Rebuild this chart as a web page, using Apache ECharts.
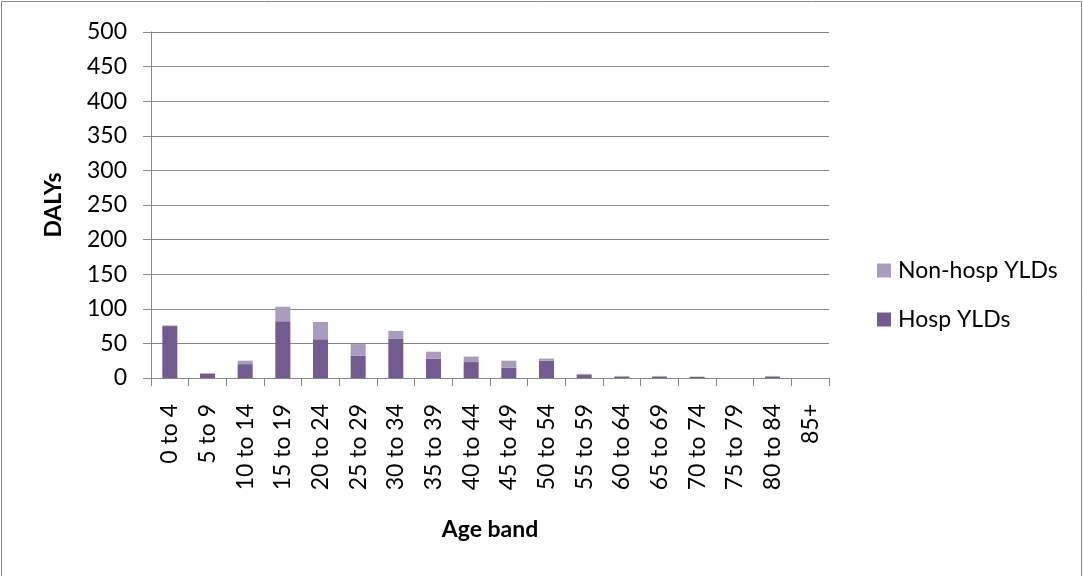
<!DOCTYPE html>
<html>
<head>
<meta charset="utf-8">
<script src="https://cdn.jsdelivr.net/npm/echarts@6/dist/echarts.min.js"></script>
<style>
  html, body { margin: 0; padding: 0; background: #fff; overflow: hidden; }
  #chart { width: 1083px; height: 576px; }
</style>
</head>
<body>
<div id="chart"></div>
<script>
// Age bands on the x axis
const ageBands = ['0 to 4', '5 to 9', '10 to 14', '15 to 19', '20 to 24', '25 to 29',
  '30 to 34', '35 to 39', '40 to 44', '45 to 49', '50 to 54', '55 to 59',
  '60 to 64', '65 to 69', '70 to 74', '75 to 79', '80 to 84', '85+'];

// DALYs from hospitalised cases
const hospYLDs = [75, 6, 20, 82, 56, 32, 57, 28, 23, 15, 25, 5, 2, 2, 1.5, 0, 2, 0];

// DALYs from non-hospitalised cases (stacked on top)
const nonHospYLDs = [1, 1, 5, 21, 25, 17, 11, 10, 8, 10, 3, 1, 1, 1, 0.5, 0, 1, 0];

const FONT = 'Lato, "Liberation Sans", Arial, sans-serif';
const FONT_SIZE = 23;
const LINE_COLOR = '#878787';

const chart = echarts.init(document.getElementById('chart'), null, { renderer: 'canvas' });

chart.setOption({
  animation: false,
  backgroundColor: '#ffffff',
  textStyle: { fontFamily: FONT, color: '#000' },
  graphic: [{
    // outer chart frame
    type: 'polyline',
    shape: { points: [[1.5, 600], [1.5, 1.5], [1081.5, 1.5], [1081.5, 600]] },
    style: { fill: null, stroke: LINE_COLOR, lineWidth: 1 },
    silent: true
  }],
  grid: { left: 151, right: 254, top: 32, bottom: 198, containLabel: false },
  legend: {
    orient: 'vertical',
    left: 872,
    top: 253,
    itemWidth: 14,
    itemHeight: 14,
    itemGap: 24,
    icon: 'rect',
    data: ['Non-hosp YLDs', 'Hosp YLDs'],
    textStyle: { fontFamily: FONT, fontSize: FONT_SIZE, lineHeight: 25, color: '#000', padding: [0, 0, 0, 2] }
  },
  xAxis: {
    type: 'category',
    data: ageBands,
    name: 'Age band',
    nameLocation: 'middle',
    nameGap: 140,
    nameTextStyle: { fontFamily: FONT, fontSize: FONT_SIZE, fontWeight: 'bold', color: '#000' },
    axisLine: { lineStyle: { color: LINE_COLOR, width: 1 } },
    axisTick: { show: true, length: 8, lineStyle: { color: LINE_COLOR } },
    axisLabel: { rotate: 90, margin: 26, fontFamily: FONT, fontSize: FONT_SIZE, color: '#000', interval: 0 }
  },
  yAxis: {
    type: 'value',
    min: 0,
    max: 500,
    interval: 50,
    name: 'DALYs',
    nameLocation: 'middle',
    nameGap: 86,
    nameRotate: 90,
    nameTextStyle: { fontFamily: FONT, fontSize: FONT_SIZE, fontWeight: 'bold', color: '#000' },
    axisLine: { show: true, lineStyle: { color: LINE_COLOR, width: 1 } },
    axisTick: { show: true, length: 8, lineStyle: { color: LINE_COLOR } },
    axisLabel: { margin: 24, fontFamily: FONT, fontSize: FONT_SIZE, color: '#000' },
    splitLine: { show: true, lineStyle: { color: LINE_COLOR, width: 1 } }
  },
  series: [
    {
      name: 'Hosp YLDs',
      type: 'bar',
      stack: 'dalys',
      barWidth: 15,
      data: hospYLDs,
      itemStyle: { color: '#735a8f' }
    },
    {
      name: 'Non-hosp YLDs',
      type: 'bar',
      stack: 'dalys',
      barWidth: 15,
      data: nonHospYLDs,
      itemStyle: { color: '#aa9cbf' }
    }
  ]
});
</script>
</body>
</html>
